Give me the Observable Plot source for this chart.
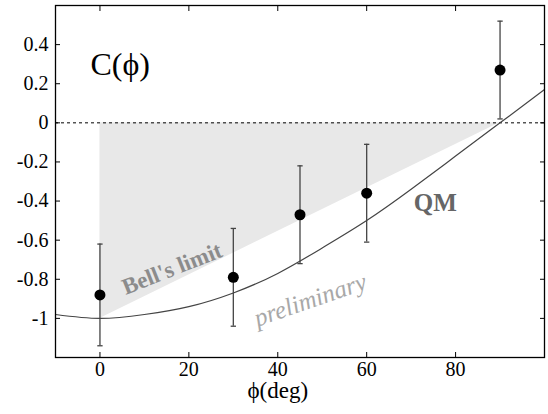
<!DOCTYPE html>
<html>
<head>
<meta charset="utf-8">
<script src="https://cdn.jsdelivr.net/npm/d3@7"></script>
<script src="https://cdn.jsdelivr.net/npm/@observablehq/plot@0.6"></script>
<style>
  html, body { margin: 0; padding: 0; background: #fff; }
  #chart svg { display: block; }
</style>
</head>
<body>
<div id="chart"></div>
<script>
// Measured correlation C(ϕ) at each analyser angle, with its uncertainty
const phiDeg = [0, 30, 45, 60, 90];
const corr = [-0.88, -0.79, -0.47, -0.36, 0.27];
const corrErr = [0.26, 0.25, 0.25, 0.25, 0.25];

// Quantum-mechanical prediction, sampled along the angle axis
const qmPhi = [-10, 0, 10, 20, 30, 40, 50, 60, 70, 80, 90, 100];
const qmC = [-0.98, -1.0, -0.98, -0.94, -0.87, -0.77, -0.64, -0.5, -0.34, -0.17, 0.0, 0.17];

// Edge of the region allowed by Bell's inequality
const bellPhi = [0, 90];
const bellC = [-1, 0];

// Axis ticks
const xTicks = [0, 20, 40, 60, 80];
const xTickLabels = ["0", "20", "40", "60", "80"];
const yTicks = [0.4, 0.2, 0, -0.2, -0.4, -0.6, -0.8, -1];
const yTickLabels = ["0.4", "0.2", "0", "-0.2", "-0.4", "-0.6", "-0.8", "-1"];

const points = phiDeg.map((p, i) => ({phi: p, c: corr[i], lo: corr[i] - corrErr[i], hi: corr[i] + corrErr[i]}));
const qm = qmPhi.map((p, i) => ({phi: p, c: qmC[i]}));
const bell = bellPhi.map((p, i) => ({phi: p, c: bellC[i]}));

// Short horizontal stroke used for the error-bar caps
const capSymbol = {
  draw(context, size) {
    const w = Math.sqrt(size) / 2;
    context.moveTo(-w, 0);
    context.lineTo(w, 0);
  }
};

const serif = "'Liberation Serif', Tinos, 'Times New Roman', 'DejaVu Serif', serif";
const xFmt = (d) => xTickLabels[xTicks.indexOf(d)];
const yFmt = (d) => yTickLabels[yTicks.indexOf(d)];

const chart = Plot.plot({
  width: 548,
  height: 414,
  marginLeft: 55,
  marginTop: 5,
  marginRight: 4,
  marginBottom: 57,
  style: {background: "#fff", color: "#000", fontFamily: serif},
  x: {domain: [-10, 100]},
  y: {domain: [-1.2, 0.6]},
  marks: [
    // shaded Bell region between zero and the Bell limit line
    Plot.areaY(bell, {x: "phi", y1: 0, y2: "c", fill: "#e8e8e8"}),
    Plot.ruleY([0], {stroke: "#000", strokeWidth: 1, strokeDasharray: "3,3"}),
    Plot.line(qm, {x: "phi", y: "c", curve: "natural", stroke: "#444", strokeWidth: 1.2}),
    // error bars and caps
    Plot.ruleX(points, {x: "phi", y1: "lo", y2: "hi", stroke: "#444", strokeWidth: 1.3}),
    Plot.dot(points, {x: "phi", y: "lo", symbol: capSymbol, r: 3, stroke: "#444", strokeWidth: 1.3}),
    Plot.dot(points, {x: "phi", y: "hi", symbol: capSymbol, r: 3, stroke: "#444", strokeWidth: 1.3}),
    Plot.dot(points, {x: "phi", y: "c", r: 5.5, fill: "#000", stroke: null}),
    // annotations
    Plot.text(["C(ϕ)"], {frameAnchor: "top-left", dx: 35, dy: 47, textAnchor: "start", fontSize: 32, fontFamily: serif, fill: "#000"}),
    Plot.text(["QM"], {x: 70.6, y: -0.41, textAnchor: "start", fontSize: 25, fontFamily: serif, fontWeight: "bold", fill: "#666"}),
    Plot.text(["Bell's limit"], {x: 16.2, y: -0.746, rotate: -21.5, fontSize: 23, fontFamily: serif, fontWeight: "bold", fill: "#8c8c8c"}),
    Plot.text(["preliminary"], {x: 47.3, y: -0.906, rotate: -19, fontSize: 25, fontFamily: serif, fontStyle: "italic", fill: "#a8a8a8"}),
    // axes: inward ticks on all four sides
    Plot.axisX(xTicks, {anchor: "bottom", tickSize: -5, tickPadding: 9, tickFormat: xFmt, fontSize: 20, fontFamily: serif, label: null}),
    Plot.axisX(xTicks, {anchor: "top", tickSize: -5, tickFormat: () => "", label: null}),
    Plot.axisY(yTicks, {anchor: "left", tickSize: -5, tickPadding: 12, tickFormat: yFmt, fontSize: 20, fontFamily: serif, label: null}),
    Plot.axisY(yTicks, {anchor: "right", tickSize: -5, tickFormat: () => "", label: null}),
    Plot.text(["ϕ(deg)"], {x: 40, frameAnchor: "bottom", dy: 40.6, fontSize: 23, fontFamily: serif, fill: "#000"}),
    Plot.frame({stroke: "#000", strokeWidth: 1.3})
  ]
});

document.getElementById("chart").append(chart);
</script>
</body>
</html>
